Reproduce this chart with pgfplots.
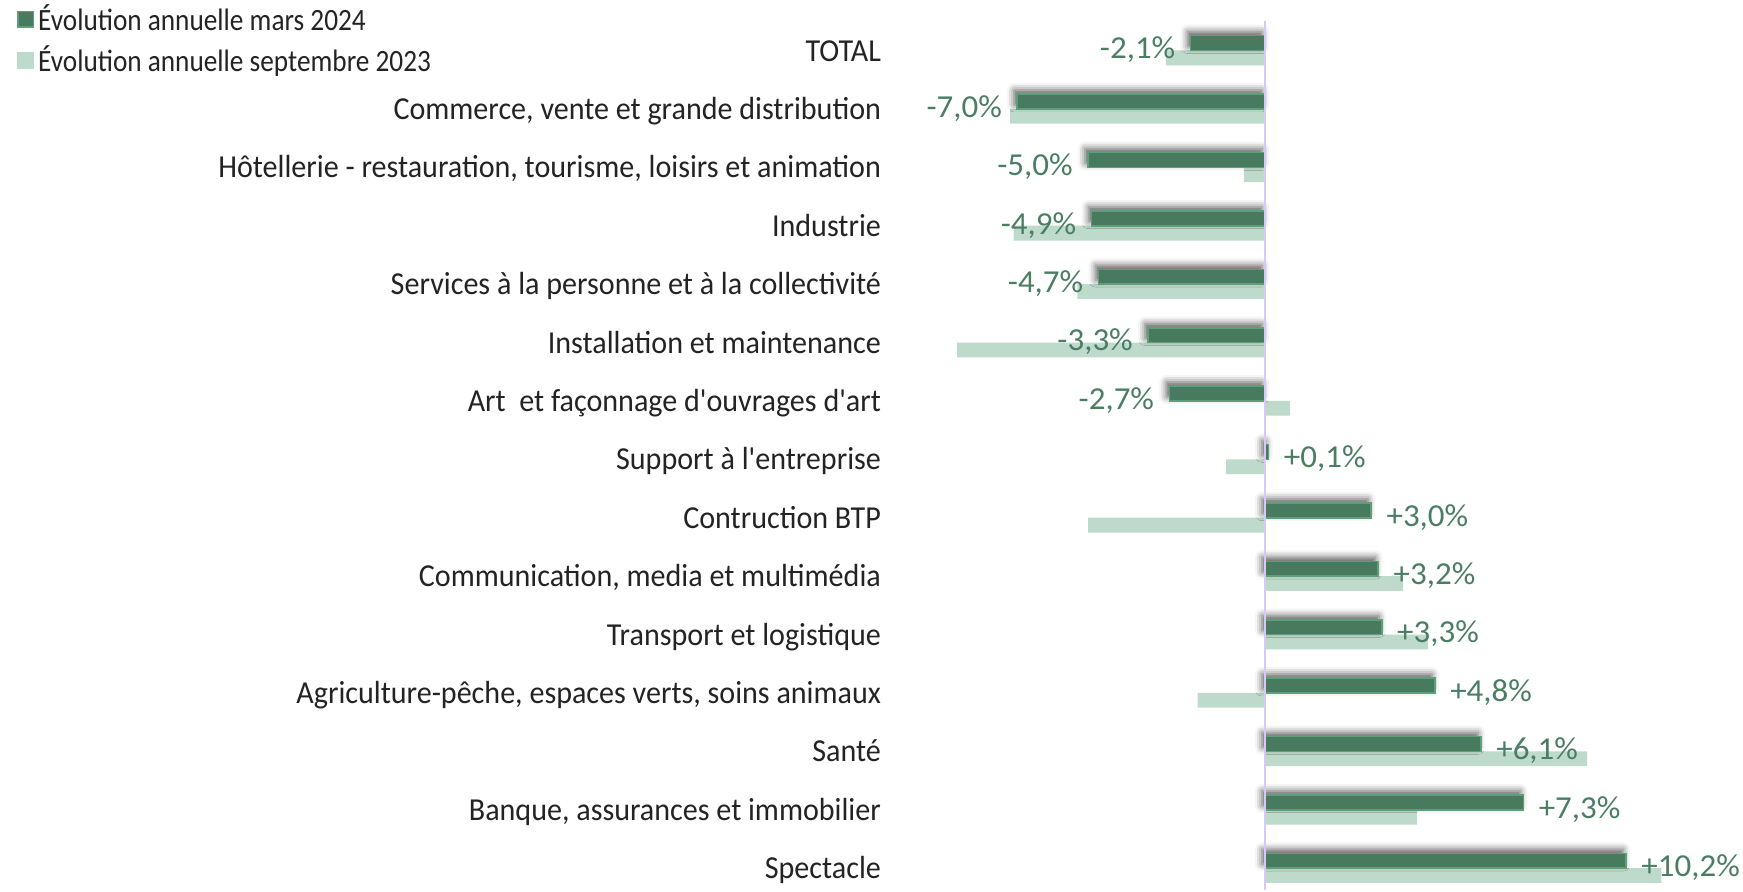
\documentclass[border=0pt]{standalone}
\usepackage{fontspec}
\setmainfont{Carlito}
\newfontfamily\catfont[FakeStretch=0.94]{Carlito}
\newfontfamily\legfont[FakeStretch=0.88]{Carlito}
\newfontfamily\lblfont[FakeStretch=1.03]{Carlito}
\usepackage{pgfplots}
\pgfplotsset{compat=1.18}
\usetikzlibrary{shadows.blur}
\definecolor{dkg}{RGB}{71,122,95}
\definecolor{dkb}{RGB}{94,158,120}
\definecolor{ltg}{RGB}{190,218,203}
\definecolor{lbl}{RGB}{75,125,99}
\definecolor{zline}{RGB}{214,200,247}
\definecolor{txt}{RGB}{35,35,35}
\begin{document}
\begin{tikzpicture}
\path[use as bounding box] (0,0) rectangle (871.5pt,445.5pt);
\begin{axis}[
  at={(446.65pt,0.35pt)}, anchor=south west,
  scale only axis, width=424.8pt, height=434.5pt,
  xmin=-10.5, xmax=13.5, ymin=-0.38, ymax=14.5,
  clip=false,
  axis line style={draw=none},
  xtick=\empty,
  ytick={0,...,14},
  ytick style={draw=none},
  yticklabel style={anchor=east, inner sep=0pt, text height=10.5pt, text depth=0pt, font=\catfont\fontsize{16}{18}\selectfont, text=txt},
  yticklabel shift=6pt,
  yticklabels={{Spectacle},{Banque, assurances et immobilier},{Santé},{Agriculture-pêche, espaces verts, soins animaux\hspace{0.3em}},{Transport et logistique},{Communication, media et multimédia},{Contruction BTP},{Support à l'entreprise},{Art\ \ et façonnage d'ouvrages d'art},{Installation et maintenance},{Services à la personne et à la collectivité},{Industrie},{Hôtellerie - restauration, tourisme, loisirs et animation},{Commerce, vente et grande distribution},{TOTAL}},
  legend image code/.code={\draw[#1] (-2.2pt,-3.9pt) rectangle (5.6pt,3.9pt);},
  legend style={at={(-1.032,1.024)}, anchor=north west, draw=none, fill=none, inner sep=0pt, row sep=2pt,
    font=\legfont\fontsize{15.5}{18}\selectfont, text=txt},
  legend cell align=left,
]
\addlegendimage{fill=dkg, draw=dkb, line width=0.8pt}
\addlegendentry{Évolution annuelle mars 2024}
\addlegendimage{fill=ltg, draw=ltg}
\addlegendentry{Évolution annuelle septembre 2023}

% light series (septembre 2023)
\addplot[xbar, bar width=7.4pt, bar shift=-3.7pt, fill=ltg, draw=none, forget plot] table {
x y
11.2 0
4.3 1
9.1 2
-1.9 3
4.6 4
3.9 5
-5.0 6
-1.1 7
0.7 8
-8.7 9
-5.3 10
-7.1 11
-0.6 12
-7.2 13
-2.8 14
};
% dark series (mars 2024)
\addplot[xbar, bar width=7.4pt, bar shift=3.7pt, fill=dkg, draw=dkb, line width=0.8pt,
  blur shadow={shadow xshift=-1.5pt, shadow yshift=2pt, shadow blur radius=3.5pt, shadow opacity=65}, forget plot] table {
x y
10.2 0
7.3 1
6.1 2
4.8 3
3.3 4
3.2 5
3.0 6
0.1 7
-2.7 8
-3.3 9
-4.7 10
-4.9 11
-5.0 12
-7.0 13
-2.1 14
};
% labels, negative values
\addplot[draw=none, mark=none, forget plot, nodes near coords={\pgfplotspointmeta\%}, point meta=explicit symbolic,
  nodes near coords style={anchor=east, inner sep=0pt, xshift=-7.5pt, yshift=0.2pt, text=lbl, font=\lblfont\fontsize{16}{18}\selectfont}]
  table[meta=l] {
x y l
-2.7 8 -2,7
-3.3 9 -3,3
-4.7 10 -4,7
-4.9 11 -4,9
-5.0 12 -5,0
-7.0 13 -7,0
-2.1 14 -2,1
};
% labels, positive values
\addplot[draw=none, mark=none, forget plot, nodes near coords={\pgfplotspointmeta\%}, point meta=explicit symbolic,
  nodes near coords style={anchor=west, inner sep=0pt, xshift=7.5pt, yshift=0.2pt, text=lbl, font=\lblfont\fontsize{16}{18}\selectfont}]
  table[meta=l] {
x y l
10.2 0 +10,2
7.3 1 +7,3
6.1 2 +6,1
4.8 3 +4,8
3.3 4 +3,3
3.2 5 +3,2
3.0 6 +3,0
0.1 7 +0,1
};
\draw[zline, line width=1pt] (axis cs:0,-0.38) -- (axis cs:0,14.5);
\end{axis}
\end{tikzpicture}
\end{document}
